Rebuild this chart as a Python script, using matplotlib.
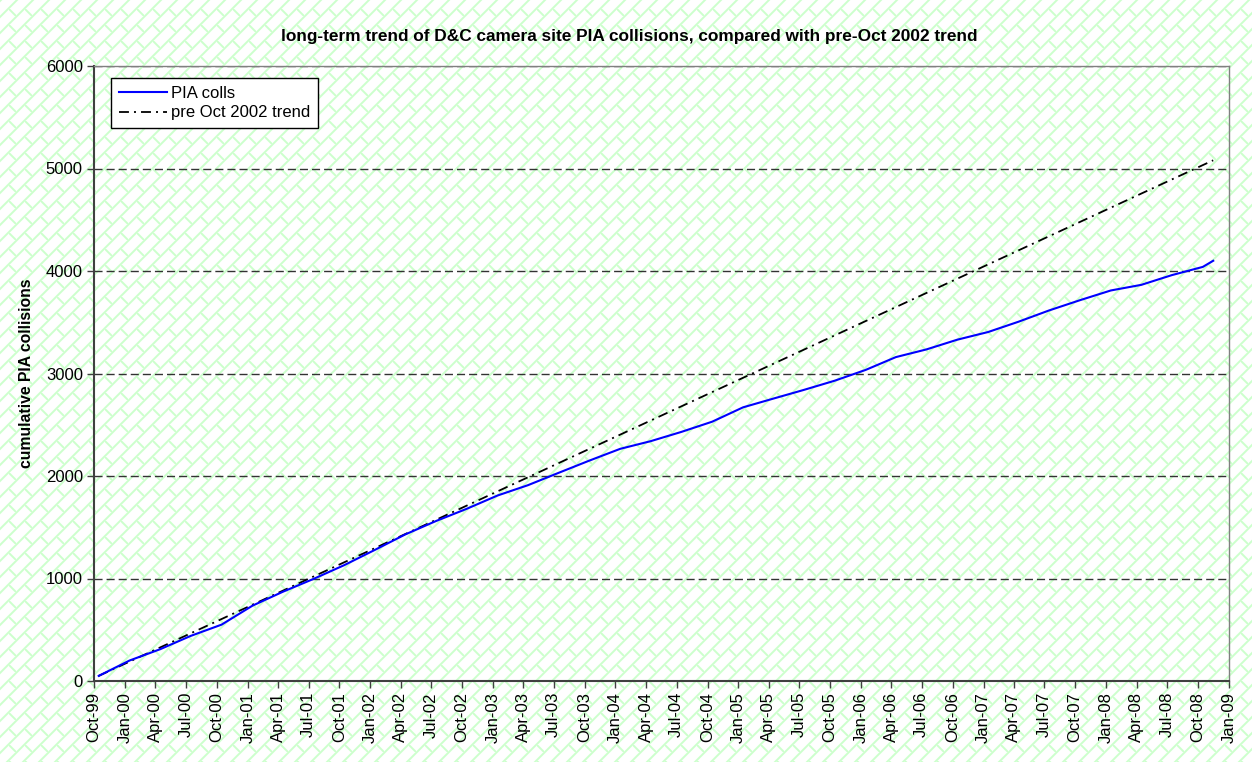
import numpy as np
import matplotlib
matplotlib.use("Agg")
import matplotlib.pyplot as plt
import matplotlib.dates as mdates
from datetime import date

plt.rcParams['font.family'] = ['Liberation Sans', 'DejaVu Sans']

# quarterly readings of the cumulative PIA collisions
dates = [date(1999, 10, 15), date(2000, 1, 15), date(2000, 4, 15), date(2000, 7, 15),
         date(2000, 10, 15), date(2001, 1, 15), date(2001, 4, 15), date(2001, 7, 15),
         date(2001, 10, 15), date(2002, 1, 15), date(2002, 4, 15), date(2002, 7, 15),
         date(2002, 10, 15), date(2003, 1, 15), date(2003, 4, 15), date(2003, 7, 15),
         date(2003, 10, 15), date(2004, 1, 15), date(2004, 4, 15), date(2004, 7, 15),
         date(2004, 10, 15), date(2005, 1, 15), date(2005, 4, 15), date(2005, 7, 15),
         date(2005, 10, 15), date(2006, 1, 15), date(2006, 4, 15), date(2006, 7, 15),
         date(2006, 10, 15), date(2007, 1, 15), date(2007, 4, 15), date(2007, 7, 15),
         date(2007, 10, 15), date(2008, 1, 15), date(2008, 4, 15), date(2008, 7, 15),
         date(2008, 10, 15), date(2008, 11, 15)]
pia_colls = [50, 200, 310, 440, 550, 735, 870, 995,
             1130, 1280, 1430, 1560, 1680, 1810, 1910, 2030,
             2150, 2265, 2340, 2430, 2530, 2670, 2755, 2840,
             2930, 3035, 3160, 3235, 3330, 3405, 3505, 3615,
             3715, 3810, 3865, 3960, 4040, 4100]

# pre Oct 2002 linear trend, start and end
trend_dates = [date(1999, 10, 15), date(2008, 11, 15)]
trend_vals = [50, 5080]

W, H = 1252, 762


# Excel style "diagonal brick" fill, light green on white
def brick_background(h, w, period=16.0, color=(204, 255, 204)):
    yy, xx = np.mgrid[0:h, 0:w].astype(float)
    u = xx / period * 8
    v = yy / period * 8
    s1 = np.mod(u + v, 8)
    d1 = np.minimum(s1, 8 - s1) / np.sqrt(2)
    s2 = np.mod(u - v, 8)
    d2 = np.minimum(s2, 8 - s2) / np.sqrt(2)
    d2 = np.where(np.mod(v, 8) >= 4, d2, 99)
    d = np.minimum(d1, d2) * period / 8
    a = np.clip(1.5 - d, 0, 1)[..., None]
    col = np.array(color, dtype=float) / 255
    return (1 - a) * 1.0 + a * col


fig = plt.figure(figsize=(W / 100, H / 100), dpi=100)
fig.patch.set_facecolor('white')
fig.figimage(brick_background(H, W), xo=0, yo=0, origin='upper', zorder=-1)

ax = fig.add_axes([94 / W, 1 - 681 / H, (1229 - 94) / W, (681 - 66) / H])
ax.set_facecolor('none')

ax.plot(dates, pia_colls, color='#0000FF', lw=1.5, label='PIA colls', zorder=3)
ax.plot(trend_dates, trend_vals, color='black', lw=1.3,
        linestyle=(0, (5.5, 2.8, 1.1, 2.8)), label='pre Oct 2002 trend', zorder=2)

ax.set_xlim(date(1999, 10, 1), date(2009, 1, 1))
ax.set_ylim(0, 6000)
ax.set_yticks(range(0, 6001, 1000))
ax.xaxis.set_major_locator(mdates.MonthLocator(bymonth=[1, 4, 7, 10]))
ax.xaxis.set_major_formatter(mdates.DateFormatter('%b-%y'))
plt.setp(ax.get_xticklabels(), rotation=90)

ax.tick_params(axis='both', direction='out', length=5, width=1, labelsize=12,
               color='#404040', pad=3)
ax.grid(axis='y', color='#333333', lw=1, linestyle=(0, (5.8, 2.9)))
ax.set_axisbelow(True)

for side in ['left', 'bottom']:
    ax.spines[side].set_color('#404040')
    ax.spines[side].set_linewidth(1.5)
for side in ['top', 'right']:
    ax.spines[side].set_color('#808080')
    ax.spines[side].set_linewidth(1)

leg = ax.legend(loc='upper left', bbox_to_anchor=(17 / 1135, 1 - 12 / 615),
                borderaxespad=0, fontsize=12, fancybox=False, framealpha=1,
                edgecolor='black', handlelength=2.9, handletextpad=0.25,
                borderpad=0.45, labelspacing=0.3)
leg.get_frame().set_linewidth(1)

fig.text(629 / W, 1 - 36 / H,
         'long-term trend of D&C camera site PIA collisions, compared with pre-Oct 2002 trend',
         ha='center', va='center', fontsize=12.4, fontweight='bold')
fig.text(27 / W, 1 - 373 / H, 'cumulative PIA collisions', rotation=90,
         ha='center', va='center', fontsize=11.3, fontweight='bold')

fig.savefig('out.png', dpi=100)
